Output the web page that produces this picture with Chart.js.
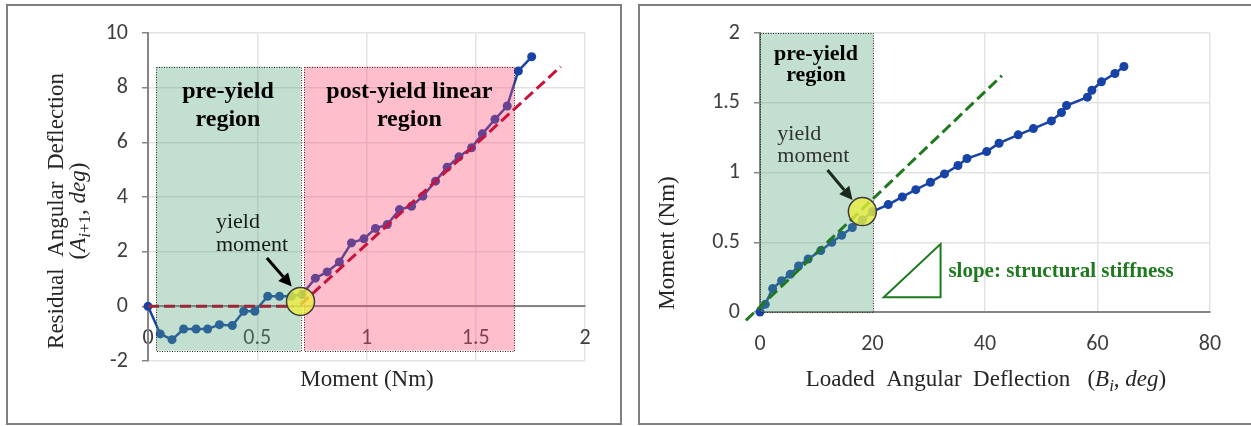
<!DOCTYPE html>
<html>
<head>
<meta charset="utf-8">
<script src="https://cdn.jsdelivr.net/npm/chart.js@4.4.1/dist/chart.umd.min.js"></script>
<style>
  html, body { margin: 0; padding: 0; background: #fff; }
  body { position: relative; width: 1251px; height: 426px; overflow: hidden; }
  .frame { position: absolute; border: 2px solid #7f7f7f; box-sizing: border-box; }
  #frameL { left: 6px; top: 4px; width: 616px; height: 421px; }
  #frameR { left: 638px; top: 4px; width: 640px; height: 421px; }
  canvas { position: absolute; top: 0; }
  #cL { left: 0; }
  #cR { left: 630px; }
</style>
</head>
<body>
<div class="frame" id="frameL"></div>
<div class="frame" id="frameR"></div>
<canvas id="cL" width="630" height="426"></canvas>
<canvas id="cR" width="621" height="426"></canvas>
<script>
// ---- Left panel: moment vs residual angular deflection ----
const momentL = [0, 0.056, 0.110, 0.163, 0.220, 0.273, 0.327, 0.386, 0.438, 0.489, 0.548, 0.602, 0.656, 0.705,
                 0.766, 0.820, 0.876, 0.931, 0.988, 1.041, 1.095, 1.151, 1.206, 1.258, 1.316, 1.369, 1.423,
                 1.481, 1.530, 1.588, 1.644, 1.695, 1.756];
const residual = [0, -1.01, -1.22, -0.83, -0.83, -0.83, -0.67, -0.70, -0.18, -0.18, 0.37, 0.37, 0.37, 0.43,
                  1.03, 1.26, 1.62, 2.32, 2.47, 2.85, 2.99, 3.54, 3.66, 4.03, 4.58, 5.09, 5.47,
                  5.80, 6.31, 6.84, 7.33, 8.61, 9.13];
const preFitX = [0, 0.665];
const preFitY = [0, 0];
const postFitX = [0.698, 1.889];
const postFitY = [0.06, 8.77];
const leftXTicks = [0, 0.5, 1, 1.5, 2];
const leftYTicks = [-2, 0, 2, 4, 6, 8, 10];
const preRegionL = { x: [0.037, 0.699], y: [-1.62, 8.77] };
const postRegionL = { x: [0.715, 1.677], y: [-1.62, 8.77] };
const yieldL = [0.698, 0.18];

// ---- Right panel: loaded angular deflection vs moment ----
const deflection = [0, 0.94, 2.24, 3.84, 5.37, 6.85, 8.56, 10.8, 12.75, 14.52, 16.41, 18.2, 20.0, 22.8,
                    25.3, 27.7, 30.3, 32.8, 35.2, 36.8, 40.3, 42.5, 45.9, 48.6, 51.8, 53.6, 54.5,
                    58.2, 59.0, 60.7, 63.1, 64.7];
const momentR = [0, 0.055, 0.168, 0.224, 0.27, 0.33, 0.38, 0.44, 0.50, 0.55, 0.606, 0.66, 0.72, 0.77,
                 0.825, 0.877, 0.93, 0.99, 1.05, 1.10, 1.15, 1.21, 1.27, 1.315, 1.37, 1.43, 1.48,
                 1.54, 1.59, 1.65, 1.71, 1.76];
const stiffFitX = [-2.5, 43.0];
const stiffFitY = [-0.06, 1.695];
const rightXTicks = [0, 20, 40, 60, 80];
const rightYTicks = [0, 0.5, 1, 1.5, 2];
const preRegionR = { x: [0, 20], y: [0, 2] };
const yieldR = [18.2, 0.72];
const slopeTri = { x: [22.0, 32.1, 32.1], y: [0.105, 0.105, 0.487] };

// ---- shared styling ----
const BLUE = '#1742a6';
const GRID = '#e3e3e3';
const AXIS = '#858585';
const TICK_FONT = { family: 'Carlito, Lato, sans-serif', size: 22 };
const TICK_COLOR = '#404040';
const SERIF = '"Liberation Serif", "Times New Roman", serif';
const GREEN_SHADE = 'rgba(84, 164, 121, 0.35)';
const PINK_SHADE = 'rgba(255, 69, 109, 0.35)';

function pts(xs, ys) { return xs.map((x, i) => ({ x, y: ys[i] })); }
function fixedTicks(list) { return s => { s.ticks = list.map(v => ({ value: v })); }; }

function segFont(s, size) {
  const sz = s.sub ? Math.round(size * 0.72) : size;
  return (s.i ? 'italic ' : '') + (s.b ? 'bold ' : '') + sz + 'px ' + SERIF;
}
function drawRich(ctx, segs, cx, cy, size, color, rot) {
  ctx.save();
  ctx.translate(cx, cy);
  ctx.rotate(rot || 0);
  let w = 0;
  for (const s of segs) { ctx.font = segFont(s, size); w += ctx.measureText(s.t).width; }
  let x = -w / 2;
  ctx.fillStyle = color;
  ctx.textAlign = 'left';
  ctx.textBaseline = 'middle';
  for (const s of segs) {
    ctx.font = segFont(s, size);
    ctx.fillText(s.t, x, s.sub ? size * 0.3 : 0);
    x += ctx.measureText(s.t).width;
  }
  ctx.restore();
}
function drawText(ctx, text, x, y, font, color, align) {
  ctx.save();
  ctx.font = font;
  ctx.fillStyle = color;
  ctx.textAlign = align || 'center';
  ctx.textBaseline = 'middle';
  ctx.fillText(text, x, y);
  ctx.restore();
}
function toPx(chart, x, y) {
  return [chart.scales.x.getPixelForValue(x), chart.scales.y.getPixelForValue(y)];
}
function drawRegion(chart, r, fill) {
  const ctx = chart.ctx;
  const [x1, y1] = toPx(chart, r.x[0], r.y[1]);
  const [x2, y2] = toPx(chart, r.x[1], r.y[0]);
  ctx.save();
  ctx.fillStyle = fill;
  ctx.fillRect(x1, y1, x2 - x1, y2 - y1);
  ctx.strokeStyle = '#2a2a2a';
  ctx.lineWidth = 1;
  ctx.setLineDash([1, 1.5]);
  ctx.strokeRect(Math.round(x1) + 0.5, Math.round(y1) + 0.5, Math.round(x2 - x1), Math.round(y2 - y1));
  ctx.restore();
}
function drawYield(chart, p) {
  const ctx = chart.ctx;
  const [cx, cy] = toPx(chart, p[0], p[1]);
  ctx.save();
  ctx.beginPath();
  ctx.arc(cx, cy, 14, 0, Math.PI * 2);
  ctx.fillStyle = 'rgba(236, 238, 60, 0.78)';
  ctx.fill();
  ctx.lineWidth = 1.5;
  ctx.strokeStyle = '#3c3c3c';
  ctx.stroke();
  ctx.restore();
}
function drawArrow(chart, from, to, color) {
  const ctx = chart.ctx;
  const [x1, y1] = toPx(chart, from[0], from[1]);
  const [x2, y2] = toPx(chart, to[0], to[1]);
  const a = Math.atan2(y2 - y1, x2 - x1);
  const head = 13, half = 6.5;
  const bx = x2 - head * Math.cos(a), by = y2 - head * Math.sin(a);
  ctx.save();
  ctx.strokeStyle = color;
  ctx.fillStyle = color;
  ctx.lineWidth = 3;
  ctx.beginPath();
  ctx.moveTo(x1, y1);
  ctx.lineTo(bx, by);
  ctx.stroke();
  ctx.beginPath();
  ctx.moveTo(x2, y2);
  ctx.lineTo(bx + half * Math.sin(a), by - half * Math.cos(a));
  ctx.lineTo(bx - half * Math.sin(a), by + half * Math.cos(a));
  ctx.closePath();
  ctx.fill();
  ctx.restore();
}

function baseScales(xMin, xMax, yMin, yMax, xTicks, yTicks, yWidth) {
  const fmt = v => String(v);
  return {
    x: {
      type: 'linear', position: { y: 0 }, min: xMin, max: xMax,
      afterBuildTicks: fixedTicks(xTicks),
      grid: { color: GRID, lineWidth: 1.5, drawTicks: false },
      border: { display: true, color: AXIS, width: 2 },
      ticks: { font: TICK_FONT, color: TICK_COLOR, padding: 19, autoSkip: false, maxRotation: 0, callback: fmt }
    },
    y: {
      type: 'linear', position: 'left', min: yMin, max: yMax,
      afterBuildTicks: fixedTicks(yTicks),
      afterFit: s => { s.width = yWidth; },
      grid: { color: GRID, lineWidth: 1.5, drawTicks: true, tickLength: 6, tickColor: AXIS, tickWidth: 1.5 },
      border: { display: true, color: AXIS, width: 2 },
      ticks: { font: TICK_FONT, color: TICK_COLOR, padding: 14, callback: fmt }
    }
  };
}

// annotations for the residual deflection panel
const leftNotes = {
  id: 'leftNotes',
  afterDatasetDraw(chart, args) {
    if (args.index !== 0) return;
    drawRegion(chart, preRegionL, GREEN_SHADE);
    drawRegion(chart, postRegionL, PINK_SHADE);
  },
  afterDatasetsDraw(chart) {
    const ctx = chart.ctx;
    drawYield(chart, yieldL);
    drawArrow(chart, [0.544, 1.77], [0.658, 0.725], '#000');
    const bold = 'bold 24px ' + SERIF;
    let p = toPx(chart, 0.366, 7.86); drawText(ctx, 'pre-yield', p[0], p[1], bold, '#000');
    p = toPx(chart, 0.366, 6.83); drawText(ctx, 'region', p[0], p[1], bold, '#000');
    p = toPx(chart, 1.196, 7.86); drawText(ctx, 'post-yield linear', p[0], p[1], bold, '#000');
    p = toPx(chart, 1.196, 6.83); drawText(ctx, 'region', p[0], p[1], bold, '#000');
    const reg = '22px ' + SERIF;
    p = toPx(chart, 0.311, 3.06); drawText(ctx, 'yield', p[0], p[1], reg, '#1a1a1a', 'left');
    p = toPx(chart, 0.311, 2.25); drawText(ctx, 'moment', p[0], p[1], reg, '#1a1a1a', 'left');
  },
  afterDraw(chart) {
    const ctx = chart.ctx;
    drawRich(ctx, [{ t: 'Moment (Nm)' }], 367, 380, 23, '#262626', 0);
    drawRich(ctx, [{ t: 'Residual  Angular  Deflection' }], 57, 211, 23, '#262626', -Math.PI / 2);
    drawRich(ctx, [{ t: '(' }, { t: 'A', i: true }, { t: 'i', i: true, sub: true }, { t: '+1', sub: true },
                   { t: ', ' }, { t: 'deg', i: true }, { t: ')' }], 79, 211, 23, '#262626', -Math.PI / 2);
  }
};

// annotations for the loaded deflection panel
const rightNotes = {
  id: 'rightNotes',
  afterDatasetDraw(chart, args) {
    if (args.index !== 0) return;
    drawRegion(chart, preRegionR, GREEN_SHADE);
  },
  afterDatasetsDraw(chart) {
    const ctx = chart.ctx;
    drawYield(chart, yieldR);
    drawArrow(chart, [12.0, 1.018], [16.46, 0.803], '#1b2a1b');
    const bold = 'bold 22px ' + SERIF;
    let p = toPx(chart, 9.94, 1.85); drawText(ctx, 'pre-yield', p[0], p[1], bold, '#000');
    p = toPx(chart, 9.94, 1.70); drawText(ctx, 'region', p[0], p[1], bold, '#000');
    const reg = '22px ' + SERIF;
    p = toPx(chart, 3.08, 1.276); drawText(ctx, 'yield', p[0], p[1], reg, '#333', 'left');
    p = toPx(chart, 3.08, 1.118); drawText(ctx, 'moment', p[0], p[1], reg, '#333', 'left');
    // slope triangle
    ctx.save();
    ctx.beginPath();
    slopeTri.x.forEach((x, i) => {
      const q = toPx(chart, x, slopeTri.y[i]);
      if (i === 0) ctx.moveTo(q[0], q[1]); else ctx.lineTo(q[0], q[1]);
    });
    ctx.closePath();
    ctx.strokeStyle = '#1f7a1f';
    ctx.lineWidth = 2;
    ctx.stroke();
    ctx.restore();
    p = toPx(chart, 33.5, 0.289);
    drawText(ctx, 'slope: structural stiffness', p[0], p[1], 'bold 21px ' + SERIF, '#1f7a1f', 'left');
  },
  afterDraw(chart) {
    const ctx = chart.ctx;
    drawRich(ctx, [{ t: 'Loaded  Angular  Deflection   (' }, { t: 'B', i: true }, { t: 'i', i: true, sub: true },
                   { t: ', ' }, { t: 'deg', i: true }, { t: ')' }], 356, 380, 23, '#262626', 0);
    drawRich(ctx, [{ t: 'Moment (Nm)' }], 38, 243, 23, '#262626', -Math.PI / 2);
  }
};

const common = {
  responsive: false,
  animation: false,
  events: [],
  plugins: { legend: { display: false }, tooltip: { enabled: false } }
};

new Chart(document.getElementById('cL'), {
  type: 'scatter',
  data: {
    datasets: [
      { label: 'Residual angular deflection', data: pts(momentL, residual), showLine: true,
        borderColor: BLUE, backgroundColor: BLUE, borderWidth: 2.5, pointRadius: 4.5,
        pointBorderWidth: 0, order: 3, clip: false },
      { label: 'Pre-yield fit', data: pts(preFitX, preFitY), showLine: true,
        borderColor: '#9e2638', borderDash: [11, 5], borderWidth: 3, pointRadius: 0, order: 2, clip: false },
      { label: 'Post-yield linear fit', data: pts(postFitX, postFitY), showLine: true,
        borderColor: '#c8143c', borderDash: [11, 5], borderWidth: 3, pointRadius: 0, order: 1, clip: false }
    ]
  },
  options: Object.assign({}, common, {
    layout: { padding: { left: 0, right: 45, top: 33, bottom: 65 } },
    scales: baseScales(0, 2, -2, 10, leftXTicks, leftYTicks, 148)
  }),
  plugins: [leftNotes]
});

new Chart(document.getElementById('cR'), {
  type: 'scatter',
  data: {
    datasets: [
      { label: 'Moment', data: pts(deflection, momentR), showLine: true,
        borderColor: BLUE, backgroundColor: BLUE, borderWidth: 2.5, pointRadius: 4.5,
        pointBorderWidth: 0, order: 2, clip: false },
      { label: 'Structural stiffness', data: pts(stiffFitX, stiffFitY), showLine: true,
        borderColor: '#1f7a1f', borderDash: [11, 5], borderWidth: 3, pointRadius: 0, order: 1, clip: false }
    ]
  },
  options: Object.assign({}, common, {
    layout: { padding: { left: 0, right: 41, top: 33, bottom: 114 } },
    scales: baseScales(0, 80, 0, 2, rightXTicks, rightYTicks, 130)
  }),
  plugins: [rightNotes]
});
</script>
</body>
</html>
